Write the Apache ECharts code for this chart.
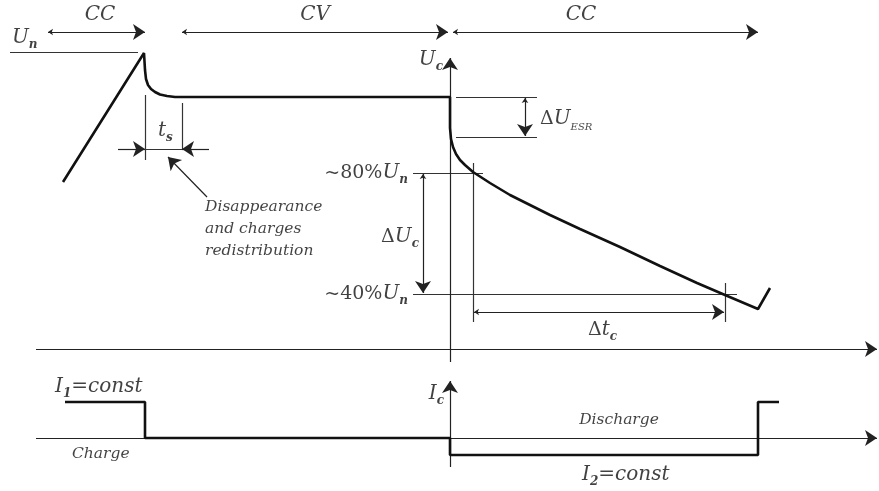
<!DOCTYPE html>
<html>
<head>
<meta charset="utf-8">
<script src="https://cdn.jsdelivr.net/npm/echarts@6/dist/echarts.min.js"></script>
<style>
  html, body { margin: 0; padding: 0; background: #fff; }
  #container { width: 879px; height: 491px; }
</style>
</head>
<body>
<div id="container"></div>
<script>
  // voltage curve: charge ramp, relaxation, CV plateau, ESR drop, CC discharge
  var voltagePts = [
    [63, 182], [144, 53], [145, 70], [146, 79], [148, 85], [151, 89], [155, 92],
    [160, 94.5], [167, 96], [175, 97], [182, 97], [450, 97],
    [450, 128], [451, 139], [453, 147], [456, 154], [460, 160], [465, 165],
    [473, 172], [490, 183], [510, 195], [530, 205], [550, 215], [580, 229],
    [620, 247], [660, 266], [697, 283], [725, 295], [758, 309], [770, 288]
  ];
  // current steps
  var currentPts = [
    [65, 402], [145, 402], [145, 438], [450, 438], [450, 455],
    [758, 455], [758, 402], [779, 402]
  ];
  // plain thin guide lines
  var guideLines = [
    [[10, 52], [138, 52]],
    [[145, 95], [145, 160]],
    [[182, 103], [182, 150]],
    [[145, 149], [182, 149]],
    [[456, 97], [537, 97]],
    [[456, 137], [537, 137]],
    [[413, 173], [483, 173]],
    [[413, 294], [737, 294]],
    [[473, 163], [473, 322]],
    [[725, 283], [725, 322]]
  ];
  // single-headed arrows (head at the end point)
  var arrowLines = [
    [[118, 149], [145, 149]],
    [[209, 149], [182, 149]],
    [[207, 197], [168, 157]],
    [[450, 362], [450, 58]],
    [[36, 349], [877, 349]],
    [[450, 467], [450, 381]],
    [[36, 438], [877, 438]]
  ];
  // double-headed arrows
  var dblArrowLines = [
    [[48, 32], [145, 32]],
    [[182, 32], [448, 32]],
    [[453, 32], [758, 32]],
    [[525, 98], [525, 136]],
    [[423, 174], [423, 293]],
    [[474, 312], [724, 312]]
  ];
  // texts: x, y, rich text, align
  var labelItems = [
    [100, 15, '{i|CC}', 'center'],
    [315, 15, '{i|CV}', 'center'],
    [581, 15, '{i|CC}', 'center'],
    [12, 38, '{i|U}{s|n}', 'left'],
    [443, 60, '{i|U}{s|c}', 'right'],
    [540, 119, '{r|Δ}{i|U}{e|ESR}', 'left'],
    [158, 131, '{i|t}{s|s}', 'left'],
    [205, 207, '{t|Disappearance}', 'left'],
    [205, 229, '{t|and charges}', 'left'],
    [205, 251, '{t|redistribution}', 'left'],
    [408, 173, '{r|~80%}{i|U}{s|n}', 'right'],
    [408, 294, '{r|~40%}{i|U}{s|n}', 'right'],
    [419, 237, '{r|Δ}{i|U}{s|c}', 'right'],
    [588, 330, '{r|Δ}{i|t}{s|c}', 'left'],
    [55, 387, '{i|I}{s|1}{i|=const}', 'left'],
    [72, 454, '{t|Charge}', 'left'],
    [444, 394, '{i|I}{s|c}', 'right'],
    [619, 420, '{t|Discharge}', 'center'],
    [582, 475, '{i|I}{s|2}{i|=const}', 'left']
  ];

  var serif = '"DejaVu Serif", "Liberation Serif", serif';

  function toLines (arr) {
    return arr.map(function (c) { return {coords: c}; });
  }

  var option = {
    animation: false,
    grid: {left: 0, right: 0, top: 0, bottom: 0},
    xAxis: {type: 'value', min: 0, max: 879, show: false},
    yAxis: {type: 'value', min: 0, max: 491, inverse: true, show: false},
    series: [
      {
        name: 'voltage',
        type: 'line',
        data: voltagePts,
        symbol: 'none',
        lineStyle: {color: '#111', width: 2.6}
      },
      {
        name: 'current',
        type: 'line',
        data: currentPts,
        symbol: 'none',
        lineStyle: {color: '#111', width: 2.6}
      },
      {
        name: 'guides',
        type: 'lines',
        coordinateSystem: 'cartesian2d',
        data: toLines(guideLines),
        symbol: 'none',
        lineStyle: {color: '#333', width: 1.2, opacity: 1}
      },
      {
        name: 'arrows',
        type: 'lines',
        coordinateSystem: 'cartesian2d',
        data: toLines(arrowLines),
        symbol: ['none', 'arrow'],
        symbolSize: [5, 12],
        lineStyle: {color: '#222', width: 1.2, opacity: 1}
      },
      {
        name: 'dblArrows',
        type: 'lines',
        coordinateSystem: 'cartesian2d',
        data: toLines(dblArrowLines),
        symbol: ['arrow', 'arrow'],
        symbolSize: [5, 12],
        lineStyle: {color: '#222', width: 1.2, opacity: 1}
      },
      {
        name: 'texts',
        type: 'scatter',
        symbolSize: 0,
        silent: true,
        data: labelItems.map(function (t) {
          return {value: [t[0], t[1]], txt: t[2], label: {align: t[3]}};
        }),
        label: {
          show: true,
          position: 'inside',
          formatter: function (p) { return p.data.txt; },
          rich: {
            i: {fontFamily: serif, fontStyle: 'italic', fontSize: 20, lineHeight: 26, color: '#111'},
            r: {fontFamily: serif, fontSize: 19, lineHeight: 26, color: '#111'},
            s: {fontFamily: serif, fontStyle: 'italic', fontWeight: 'bold', fontSize: 12, lineHeight: 10, verticalAlign: 'bottom', color: '#111'},
            e: {fontFamily: serif, fontStyle: 'italic', fontSize: 10, lineHeight: 10, verticalAlign: 'bottom', color: '#111'},
            t: {fontFamily: serif, fontStyle: 'italic', fontSize: 15.5, lineHeight: 20, color: '#111'}
          }
        }
      }
    ]
  };

  var myChart = echarts.init(document.getElementById('container'));
  myChart.setOption(option);
</script>
</body>
</html>
